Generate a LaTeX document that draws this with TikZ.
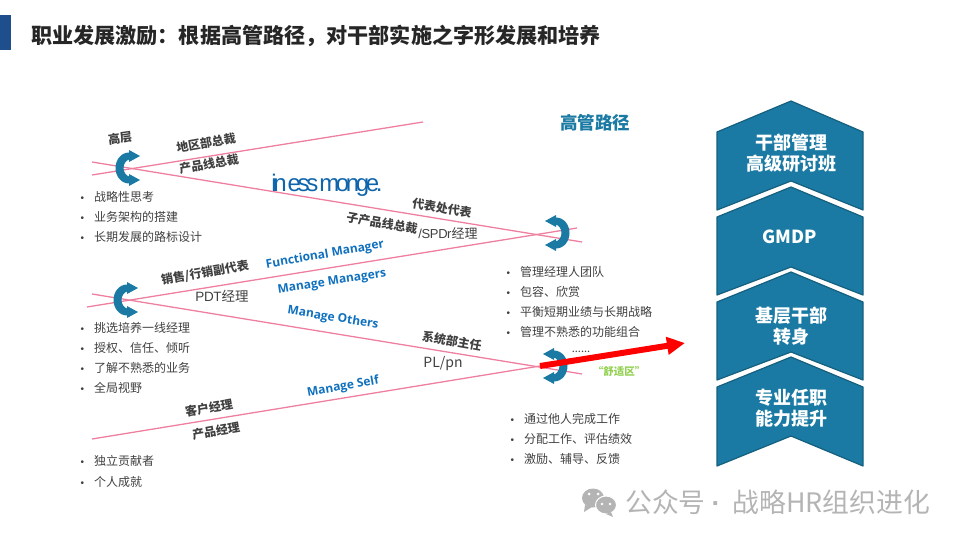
\documentclass[tikz,border=0pt]{standalone}
\usepackage{fontspec}
\setmainfont[Kerning=Off]{Noto Sans CJK SC}
\newfontfamily\latinfont{Open Sans}
\newfontfamily\thinfont[LetterSpace=-14, WordSpace=0.3]{Liberation Sans}
\newfontfamily\tightfont[LetterSpace=-3]{Liberation Sans}
\newfontfamily\dotfont{Liberation Sans}
\usetikzlibrary{arrows.meta, positioning}
\definecolor{teal}{HTML}{1A7AA3}
\definecolor{tealdark}{HTML}{15607F}
\definecolor{pinkline}{HTML}{EE7F9F}
\definecolor{bodygray}{HTML}{404040}
\definecolor{markgray}{HTML}{B4B4B4}
\definecolor{barblue}{HTML}{1F4E8C}
\definecolor{bluetext}{HTML}{0F70BE}
\definecolor{comfort}{HTML}{92D050}
\newcommand{\itm}[1]{\makebox[13.5pt][l]{\dotfont\fontsize{10}{8}\selectfont •}#1\\}
\tikzset{
    path/.style={draw=pinkline, line width=1.3pt},
    level/.style={font=\fontsize{12}{14}\selectfont\bfseries, text=bodygray, inner sep=0pt},
    role/.style={font=\fontsize{11.5}{14}\selectfont, text=bodygray, inner sep=0pt},
    stage/.style={font=\latinfont\fontsize{12}{14}\selectfont\bfseries, text=bluetext, inner sep=0pt},
    bullets/.style={font=\fontsize{12}{20.2}\selectfont, text=bodygray, align=left, anchor=north west, inner sep=0pt},
    chevron/.style={fill=teal, draw=tealdark, line width=1.2pt, line join=round},
    chevlabel/.style={font=\fontsize{18}{21}\selectfont\bfseries, text=white, align=center, inner sep=0pt},
    turn/.pic={
        \fill[teal] (2,-15.5) -- (2,-18) -- (13,-12) -- (2,-6) -- (2,-8.5)
            .. controls (-1,-7.5) and (-3.5,-4) .. (-3.5,0)
            .. controls (-3.5,4) and (-1,7.5) .. (2,8.5)
            -- (2,6) -- (13,12) -- (2,18) -- (2,15.5)
            .. controls (-6,15.5) and (-11.5,8) .. (-11.5,0)
            .. controls (-11.5,-8) and (-6,-15.5) .. (2,-15.5) -- cycle;
    },
}
\begin{document}
\begin{tikzpicture}[x=1pt, y=-1pt]
    \useasboundingbox (0,0) rectangle (960,540);
    \fill[barblue] (0,15) rectangle (11,50);
    \node[anchor=west, inner sep=0pt, font=\fontsize{21.1}{24}\selectfont\bfseries, text=black!85] (title) at (31,36)
        {职业发展激励：根据高管路径，对干部实施之字形发展和培养};

    \coordinate (topA) at (92,175);
    \coordinate (topB) at (423,122);
    \coordinate (upperA) at (92,162);
    \coordinate (upperB) at (582,242);
    \coordinate (midA) at (87,307);
    \coordinate (midB) at (577,228);
    \coordinate (lowerA) at (92,294);
    \coordinate (lowerB) at (582,374);
    \coordinate (selfA) at (92,439);
    \coordinate (selfB) at (540,366);
    \coordinate (exitB) at (685,343);
    \draw[path] (topA) -- (topB);
    \draw[path] (upperA) -- (upperB);
    \draw[path] (midA) -- (midB);
    \draw[path] (lowerA) -- (lowerB);
    \draw[path] (selfA) -- (selfB);

    \pic at (127,168) {turn};
    \pic at (125,300) {turn};
    \pic[xscale=-1] at (558,233) {turn};
    \pic[xscale=-1] at (556,366) {turn};

    \draw[red, line width=6pt, -{Triangle[length=18pt, width=17pt]}] (selfB) -- (exitB);

    \node[level, rotate=8] (high) at (120,138) {高层};
    \node[level, rotate=10] (regionHead) at (206,143) {地区部总裁};
    \node[level, rotate=10] (lineHead) at (209,164) {产品线总裁};
    \node[level, rotate=-10] (subLineHead) at (382,223) {子产品线总裁};
    \node[level, rotate=-10] (officeRep) at (442,208) {代表处代表};
    \node[level, rotate=10] (salesRep) at (205,273) {销售/行销副代表};
    \node[level, rotate=-10] (sysHead) at (452,341) {系统部主任};
    \node[level, rotate=10] (accountMgr) at (209,408) {客户经理};
    \node[level, rotate=10] (productMgr) at (216,431) {产品经理};

    \node[stage, rotate=10] (functional) at (325,255) {Functional Manager};
    \node[stage, rotate=9] (managers) at (332,282) {Manage Managers};
    \node[stage, rotate=-9] (others) at (333,318) {Manage Others};
    \node[stage, rotate=10] (self) at (343,387) {Manage Self};

    \node[inner sep=0pt, text=bluetext!90!black, font=\thinfont\fontsize{24}{28}\selectfont] (garbled) at (327,185) {in ess monge.};
    \node[role, font=\fontsize{13}{15}\selectfont] (spdr) at (448,233) {{\tightfont /SPDr}经理};
    \node[role, font=\fontsize{13.5}{15}\selectfont] (pdt) at (222,296) {{\tightfont PDT}经理};
    \node[role, font=\fontsize{14}{16}\selectfont] (pl) at (443,364) {PL/pn};
    \node[role, font=\fontsize{11}{12}\selectfont] (dots) at (581,352) {......};
    \node[inner sep=0pt, text=comfort, font=\fontsize{10.5}{12}\selectfont\bfseries] (comfortzone) at (619,371) {“舒适区”};
    \node[inner sep=0pt, text=teal, font=\fontsize{17.5}{20}\selectfont\bfseries] (route) at (595,123) {高管路径};

    \node[bullets] (listTop) at (80.5,191) {\itm{战略性思考}\itm{业务架构的搭建}\itm{长期发展的路标设计}};
    \node[bullets] (listMid) at (80.5,322) {\itm{挑选培养一线经理}\itm{授权、信任、倾听}\itm{了解不熟悉的业务}\itm{全局视野}};
    \node[bullets] (listLow) at (80.5,455.5) {\itm{独立贡献者}\itm{个人成就}};
    \node[bullets] (listManagers) at (506.5,266) {\itm{管理经理人团队}\itm{包容、欣赏}\itm{平衡短期业绩与长期战略}\itm{管理不熟悉的功能组合}};
    \node[bullets] (listOthers) at (510.5,413) {\itm{通过他人完成工作}\itm{分配工作、评估绩效}\itm{激励、辅导、反馈}};

    \draw[chevron] (717,132) -- (791,101) -- (863,132) -- (863,210) -- (791,181) -- (717,210) -- cycle;
    \draw[chevron] (717,217) -- (791,187) -- (863,217) -- (863,295) -- (791,267) -- (717,295) -- cycle;
    \draw[chevron] (717,302) -- (791,272) -- (863,302) -- (863,380) -- (791,352) -- (717,380) -- cycle;
    \draw[chevron] (717,387) -- (791,357) -- (863,387) -- (863,466) -- (791,436) -- (717,466) -- cycle;
    \node[chevlabel] (seminar) at (791,153) {干部管理\\高级研讨班};
    \node[chevlabel] (gmdp) at (790,237) {GMDP};
    \node[chevlabel] (firstline) at (791,326) {基层干部\\转身};
    \node[chevlabel] (specialist) at (791,408) {专业任职\\能力提升};

    \fill[markgray] (593,498) ellipse (11 and 9.5);
    \fill[markgray] (585,505) -- (584,512) -- (592,507) -- cycle;
    \fill[markgray, draw=white, line width=1pt] (606,505) ellipse (10.5 and 9);
    \fill[markgray] (611,512) -- (613,517) -- (606,514) -- cycle;
    \foreach \ex/\ey in {589/494, 598/494} \fill[white] (\ex,\ey) circle (1.5);
    \foreach \ex/\ey in {602/504, 610/504} \fill[white] (\ex,\ey) circle (1.3);
    \node[anchor=west, inner sep=0pt, text=markgray, font=\fontsize{26.8}{30}\selectfont] (account) at (625,502) {公众号\hspace{6pt}{\dotfont\bfseries ·}\hspace{12pt}战略HR组织进化};
\end{tikzpicture}
\end{document}
